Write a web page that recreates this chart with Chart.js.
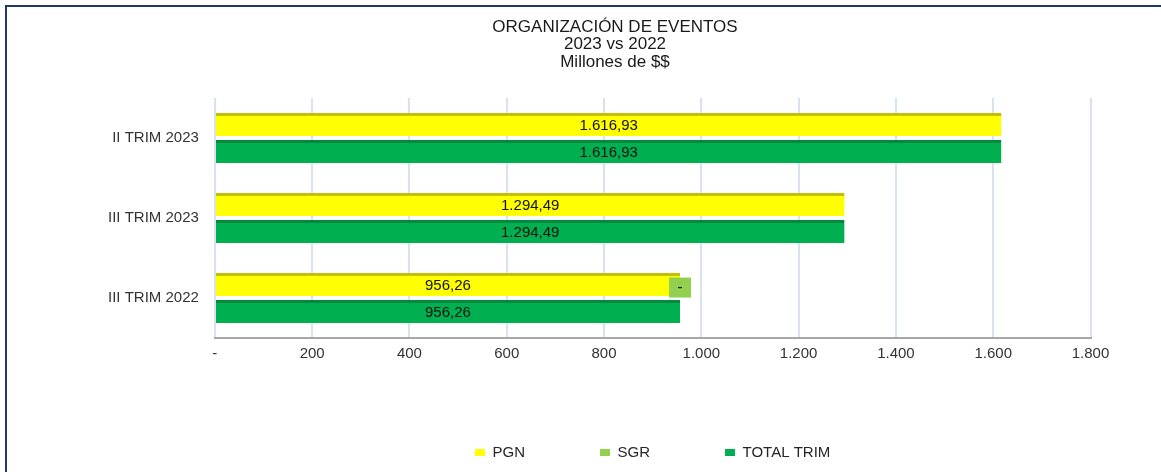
<!DOCTYPE html>
<html>
<head>
<meta charset="utf-8">
<script src="https://cdn.jsdelivr.net/npm/chart.js@4.4.1/dist/chart.umd.min.js"></script>
<style>
  html, body { margin: 0; padding: 0; background: #fff; overflow: hidden; }
  #wrap { position: absolute; left: 0; top: 0; width: 1161px; height: 472px; }
  #frame { position: absolute; left: 5px; top: 5px; width: 1200px; height: 500px;
           border-left: 2px solid #1f3a60; border-top: 2px solid #1f3a60; pointer-events: none; }
</style>
</head>
<body>
<div id="wrap"><canvas id="chart"></canvas></div>
<div id="frame"></div>
<script>
const titleLines = ['ORGANIZACIÓN DE EVENTOS', '2023 vs 2022', 'Millones de $$'];
const categories = ['II TRIM 2023', 'III TRIM 2023', 'III TRIM 2022'];
const pgn = [1616.93, 1294.49, 956.26];
const sgr = [null, null, 0];
const totalTrim = [1616.93, 1294.49, 956.26];
const xMin = 0;
const xMax = 1800;
const xStep = 200;

const FONT = '"Liberation Sans", Arial, sans-serif';

// thousands with '.', decimals with ','
function fmt(v, dec) {
  const parts = v.toFixed(dec).split('.');
  parts[0] = parts[0].replace(/\B(?=(\d{3})+(?!\d))/g, '.');
  return dec ? parts.join(',') : parts[0];
}

const barLabels = {
  id: 'barLabels',
  afterDatasetsDraw(chart, args, opts) {
    const ctx = chart.ctx;
    ctx.save();
    ctx.font = '15px ' + FONT;
    ctx.textAlign = 'center';
    ctx.textBaseline = 'middle';
    chart.data.datasets.forEach((ds, i) => {
      const meta = chart.getDatasetMeta(i);
      meta.data.forEach((bar, j) => {
        const v = ds.data[j];
        if (v === null || v === undefined) return;
        if (v === 0) {
          // zero value: Excel shows a filled label box with a dash
          ctx.fillStyle = ds.backgroundColor;
          ctx.fillRect(bar.x - 11, bar.y - 7, 22, 20);
          ctx.fillStyle = opts.color;
          ctx.fillText('-', bar.x, bar.y + 3);
        } else {
          ctx.fillStyle = opts.color;
          ctx.fillText(fmt(v, 2), (bar.x + bar.base) / 2, bar.y + 1);
        }
      });
    });
    ctx.restore();
  }
};

// the original frame is wider than the picture, so its title sits right of the canvas centre
const titleShift = {
  id: 'titleShift',
  afterLayout(chart, args, opts) {
    const t = chart.titleBlock;
    const d = opts.center - (t.left + t.right) / 2;
    t.left += d;
    t.right += d;
  }
};

new Chart(document.getElementById('chart'), {
  type: 'bar',
  data: {
    labels: categories,
    datasets: [
      {label: 'PGN', data: pgn, stack: 'fuentes', backgroundColor: '#ffff00', borderColor: '#c4c000',
       borderWidth: {top: 3, left: 0, right: 0, bottom: 0}, borderSkipped: false},
      {label: 'SGR', data: sgr, stack: 'fuentes', backgroundColor: '#92d050', borderColor: '#6fae35',
       borderWidth: 0},
      {label: 'TOTAL TRIM', data: totalTrim, stack: 'total', backgroundColor: '#00b050', borderColor: '#008a3e',
       borderWidth: {top: 3, left: 0, right: 0, bottom: 0}, borderSkipped: false}
    ]
  },
  options: {
    indexAxis: 'y',
    responsive: true,
    maintainAspectRatio: false,
    animation: false,
    events: [],
    categoryPercentage: 0.673,
    barPercentage: 0.855,
    layout: {padding: {left: 92, right: 70.5, top: 0, bottom: 2}},
    scales: {
      x: {
        stacked: true,
        min: xMin,
        max: xMax,
        ticks: {
          stepSize: xStep,
          padding: 8.5,
          color: '#333',
          font: {family: FONT, size: 15, lineHeight: 1},
          callback: v => v === 0 ? '-' : fmt(v, 0)
        },
        grid: {color: '#d9e2f3', lineWidth: 2, drawTicks: false},
        border: {display: true, color: '#a6a6a6', width: 2}
      },
      y: {
        stacked: true,
        ticks: {padding: 16, color: '#333', font: {family: FONT, size: 15}},
        grid: {display: false, drawTicks: false},
        border: {display: false}
      }
    },
    plugins: {
      tooltip: {enabled: false},
      title: {
        display: true,
        text: titleLines,
        color: '#1a1a1a',
        font: {family: FONT, size: 17, weight: 'normal', lineHeight: 1.02},
        padding: {top: 18.5, bottom: 27.5}
      },
      titleShift: {center: 615},
      legend: {
        position: 'bottom',
        fullSize: false,
        labels: {
          boxWidth: 10,
          boxHeight: 7,
          padding: 75,
          color: '#262626',
          font: {family: FONT, size: 15},
          generateLabels: chart => Chart.defaults.plugins.legend.labels.generateLabels(chart)
            .map(l => Object.assign(l, {lineWidth: 0}))
        }
      },
      barLabels: {color: '#111'}
    }
  },
  plugins: [barLabels, titleShift]
});
</script>
</body>
</html>
